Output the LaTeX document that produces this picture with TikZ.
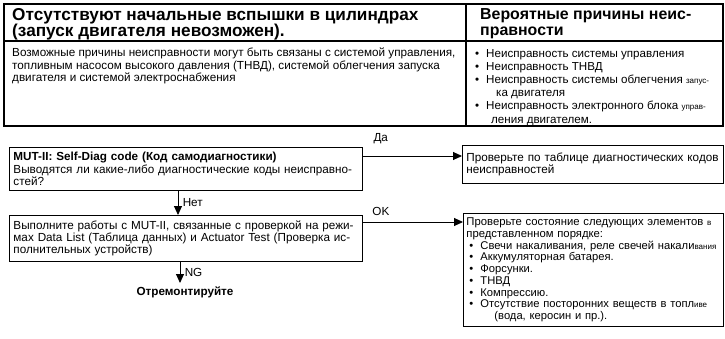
\documentclass[tikz,border=0pt]{standalone}
\usepackage{fontspec}
\setmainfont{Liberation Sans}
\usetikzlibrary{arrows.meta,positioning}

\newcommand{\bodyfont}{\fontsize{11.7}{12.3}\selectfont}
\newcommand{\listfont}{\fontsize{11.6}{13.2}\selectfont}
\newcommand{\checkfont}{\fontsize{11.2}{11.7}\selectfont}
\newcommand{\headfont}{\fontsize{17.2}{16.5}\selectfont\bfseries}
\newcommand{\sm}[1]{{\fontsize{8}{8}\selectfont #1}}
\newcommand{\bul}{\makebox[11pt][l]{\textbullet}}

\tikzset{
  cell/.style={anchor=north west, inner sep=0pt, align=left},
  box/.style={draw, line width=0.9pt, anchor=north west, inner xsep=4pt,
    inner ysep=3pt, align=left, font=\bodyfont},
  flow/.style={-{Triangle[length=9pt,width=8pt]}, line width=0.9pt},
  tableline/.style={line width=1.2pt},
}

\begin{document}
\begin{tikzpicture}[x=1pt,y=-1pt]
    \useasboundingbox (0,0) rectangle (725,339);

    % table
    \draw[tableline] (4,4) rectangle (723,126);
    \draw[tableline] (4,41) -- (723,41);
    \draw[tableline] (466,4) -- (466,126);

    \node[cell, font=\headfont] (title) at (12,8)
        {Отсутствуют начальные вспышки в цилиндрах\\(запуск двигателя невозможен).};
    \node[cell, font=\headfont\fontsize{15.9}{16.5}\selectfont] (probtitle) at (480,8)
        {Вероятные причины неис-\\правности};
    \node[cell, font=\bodyfont] (causes) at (12,48)
        {Возможные причины неисправности могут быть связаны с системой управления,\\
         топливным насосом высокого давления (ТНВД), системой облегчения запуска\\
         двигателя и системой электроснабжения};
    \node[cell, font=\listfont] (problist) at (475,49)
        {\bul Неисправность системы управления\\
         \bul Неисправность ТНВД\\
         \bul Неисправность системы облегчения \sm{запус-}\\
         \hspace*{21pt}ка двигателя\\
         \bul Неисправность электронного блока \sm{управ-}\\
         \hspace*{16pt}ления двигателем.};

    % flowchart
    \node[box, text width=345pt, minimum height=43pt] (selfdiag) at (9,147)
        {\textbf{MUT-II: Self-Diag code (Код самодиагностики)}\\
         Выводятся ли какие-либо диагностические коды неисправно-\\стей?};
    \node[box, text width=253pt, minimum height=38pt] (codetable) at (462,145)
        {Проверьте по таблице диагностических кодов\\неисправностей};
    \node[box, text width=345pt, minimum height=46pt] (mutcheck) at (9,215)
        {Выполните работы с MUT-II, связанные с проверкой на режи-\\
         мах Data List (Таблица данных) и Actuator Test (Проверка ис-\\
         полнительных устройств)};
    \node[box, inner xsep=3pt, text width=254pt, minimum height=113pt, font=\checkfont]
        (elements) at (463,213)
        {{\fontsize{11.3}{11.7}\selectfont Проверьте состояние следующих элементов \sm{в}}\\
         {\fontsize{11.3}{11.7}\selectfont представленном порядке:}\\
         \hspace*{3pt}\bul Свечи накаливания, реле свечей накали\sm{вания}\\
         \hspace*{3pt}\bul Аккумуляторная батарея.\\
         \hspace*{3pt}\bul Форсунки.\\
         \hspace*{3pt}\bul ТНВД\\
         \hspace*{3pt}\bul Компрессию.\\
         \hspace*{3pt}\bul Отсутствие посторонних веществ в топл\sm{иве}\\
         \hspace*{28pt}(вода, керосин и пр.).};
    \node[font=\bodyfont\bfseries, anchor=north] (repair) at (185,283) {Отремонтируйте};

    % connectors
    \coordinate (yesfrom) at ([yshift=-9pt]selfdiag.north east);
    \coordinate (okfrom) at ([yshift=-7pt]mutcheck.north east);
    \coordinate (nofrom) at ([xshift=169pt]selfdiag.south west);
    \coordinate (ngfrom) at ([xshift=171pt]mutcheck.south west);

    \draw[flow] (yesfrom) -- (yesfrom -| codetable.west)
        node[pos=0.18, above=8pt, font=\bodyfont] {Да};
    \draw[flow] (okfrom) -- (okfrom -| elements.west)
        node[pos=0.18, above=3pt, font=\bodyfont] {OK};
    \draw[flow] (nofrom) -- (nofrom |- mutcheck.north)
        node[midway, right=1pt, font=\bodyfont] {Нет};
    \draw[flow] (ngfrom) -- (ngfrom |- repair.north)
        node[midway, right=1pt, font=\bodyfont] {NG};
\end{tikzpicture}
\end{document}
